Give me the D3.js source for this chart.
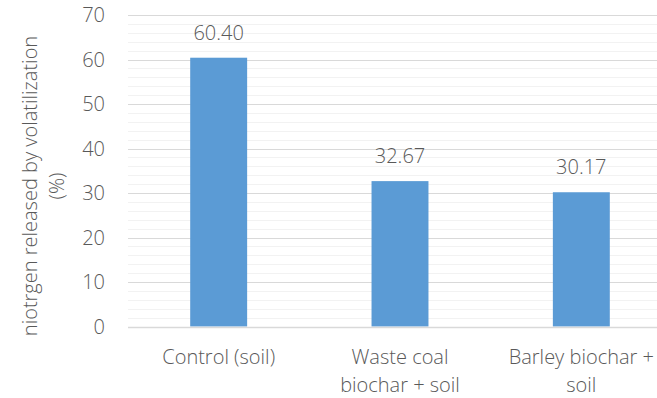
<!DOCTYPE html>
<html>
<head>
<meta charset="utf-8">
<script src="https://cdn.jsdelivr.net/npm/d3@7"></script>
<style>
  html, body { margin: 0; padding: 0; background: #fff; }
  svg text { font-family: "Open Sans", "Lato", sans-serif; font-weight: 300; fill: #595959; font-size: 20px; }
</style>
</head>
<body>
<svg id="chart" width="657" height="398"></svg>
<script>
// Nitrogen released by volatilization per treatment
const categories = [["Control (soil)"], ["Waste coal", "biochar + soil"], ["Barley biochar +", "soil"]];
const values = [60.40, 32.67, 30.17];
const yTicks = [0, 10, 20, 30, 40, 50, 60, 70];
const yTitle = ["niotrgen released by volatilization", "(%)"];

const svg = d3.select("#chart");
const plot = { left: 128, right: 672, top: 15, bottom: 326.5 };

const x = d3.scaleBand()
  .domain(d3.range(categories.length))
  .range([plot.left, plot.right])
  .paddingInner(0.686)
  .paddingOuter(0.343);

const y = d3.scaleLinear().domain([0, 70]).range([plot.bottom, plot.top]);

// minor gridlines every 2 units
svg.append("g")
  .selectAll("line")
  .data(d3.range(0, 71, 2).filter(v => v % 10 !== 0))
  .join("line")
  .attr("x1", plot.left).attr("x2", 657)
  .attr("y1", d => Math.round(y(d)) + 0.5).attr("y2", d => Math.round(y(d)) + 0.5)
  .attr("stroke", "#f2f2f2").attr("stroke-width", 1);

// major gridlines
svg.append("g")
  .selectAll("line")
  .data(yTicks)
  .join("line")
  .attr("x1", plot.left).attr("x2", 657)
  .attr("y1", d => Math.round(y(d)) + 0.5).attr("y2", d => Math.round(y(d)) + 0.5)
  .attr("stroke", "#d9d9d9").attr("stroke-width", 1);

// y tick labels
svg.append("g")
  .selectAll("text")
  .data(yTicks)
  .join("text")
  .attr("x", 105)
  .attr("y", d => y(d))
  .attr("dy", "0.35em")
  .attr("text-anchor", "end")
  .text(d => d);

// bars
svg.append("g")
  .selectAll("rect")
  .data(values)
  .join("rect")
  .attr("x", (d, i) => x(i))
  .attr("width", x.bandwidth())
  .attr("y", d => y(d))
  .attr("height", d => y(0) - y(d))
  .attr("fill", "#5b9bd5");

// baseline
svg.append("line")
  .attr("x1", plot.left).attr("x2", 657)
  .attr("y1", Math.round(y(0)) + 0.5).attr("y2", Math.round(y(0)) + 0.5)
  .attr("stroke", "#d9d9d9").attr("stroke-width", 1.5);

// value labels
svg.append("g")
  .selectAll("text")
  .data(values)
  .join("text")
  .attr("x", (d, i) => x(i) + x.bandwidth() / 2)
  .attr("y", d => y(d) - 18)
  .attr("text-anchor", "middle")
  .text(d => d.toFixed(2));

// category labels
const catG = svg.append("g")
  .selectAll("text")
  .data(categories)
  .join("text")
  .attr("x", (d, i) => x(i) + x.bandwidth() / 2)
  .attr("y", 364)
  .attr("text-anchor", "middle");
catG.selectAll("tspan")
  .data((d, i) => d.map(s => ({ s, i })))
  .join("tspan")
  .attr("x", d => x(d.i) + x.bandwidth() / 2)
  .attr("dy", (d, j) => j === 0 ? 0 : 28)
  .text(d => d.s);

// y axis title
const title = svg.append("text")
  .attr("transform", "translate(37,186) rotate(-90)")
  .attr("text-anchor", "middle");
title.selectAll("tspan")
  .data(yTitle)
  .join("tspan")
  .attr("x", 0)
  .attr("dy", (d, j) => j === 0 ? 0 : 27)
  .text(d => d);
</script>
</body>
</html>
